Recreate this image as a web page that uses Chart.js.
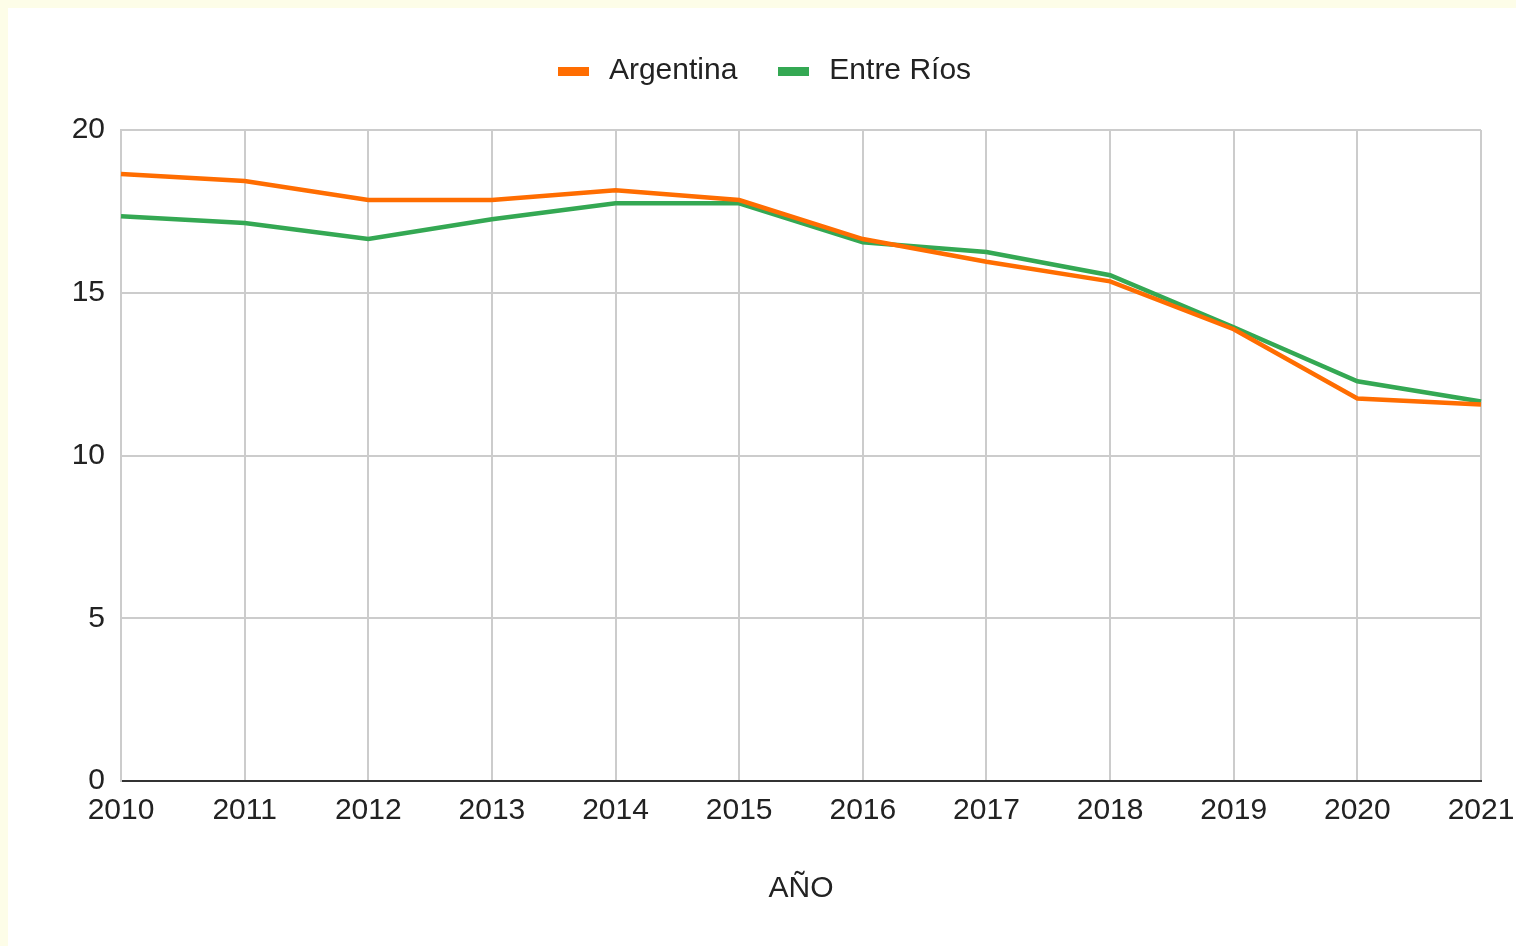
<!DOCTYPE html>
<html>
<head>
<meta charset="utf-8">
<script src="https://cdn.jsdelivr.net/npm/chart.js@4"></script>
<style>
  html, body { margin: 0; padding: 0; background: #fdfde8; }
  #wrap { position: absolute; left: 8px; top: 8px; width: 1508px; height: 938px; background: #fff; }
</style>
</head>
<body>
<div id="wrap"><canvas id="chart" width="1508" height="938"></canvas></div>
<script>
// datos
const years = ['2010', '2011', '2012', '2013', '2014', '2015', '2016', '2017', '2018', '2019', '2020', '2021'];
const argentina = [18.65, 18.43, 17.85, 17.85, 18.15, 17.85, 16.65, 15.95, 15.35, 13.88, 11.75, 11.57];
const entreRios = [17.35, 17.14, 16.65, 17.26, 17.75, 17.75, 16.55, 16.25, 15.54, 13.94, 12.28, 11.66];
const yTicks = [0, 5, 10, 15, 20];

const font = { family: "Arial, 'Liberation Sans', sans-serif", size: 30 };
const textColor = '#222';

// rectangulito de la leyenda
function legendBox(color) {
  const c = document.createElement('canvas');
  c.width = 31;
  c.height = 9;
  const g = c.getContext('2d');
  g.fillStyle = color;
  g.fillRect(0, 0, 31, 9);
  return c;
}

// altura fija de la leyenda
const legendHeight = {
  id: 'legendHeight',
  beforeInit(chart) {
    const fit = chart.legend.fit;
    chart.legend.fit = function () {
      fit.bind(chart.legend)();
      this.height = 110;
    };
  }
};

new Chart(document.getElementById('chart'), {
  type: 'line',
  data: {
    labels: years,
    datasets: [
      { label: 'Argentina', data: argentina, borderColor: '#ff6d01', backgroundColor: '#ff6d01', borderWidth: 4.5, pointRadius: 0, tension: 0, pointStyle: legendBox('#ff6d01') },
      { label: 'Entre Ríos', data: entreRios, borderColor: '#34a853', backgroundColor: '#34a853', borderWidth: 4.5, pointRadius: 0, tension: 0, pointStyle: legendBox('#34a853') }
    ]
  },
  options: {
    responsive: false,
    animation: false,
    layout: { padding: { top: 12, left: 0, right: 0, bottom: 39 } },
    plugins: {
      tooltip: { enabled: false },
      legend: {
        position: 'top',
        labels: {
          font: font,
          color: textColor,
          usePointStyle: true,
          pointStyleWidth: 41,
          boxHeight: 9,
          padding: 36
        }
      }
    },
    scales: {
      x: {
        offset: false,
        afterFit(scale) { scale.paddingRight = 35; },
        grid: { color: '#ccc', lineWidth: 2, drawTicks: false },
        border: { color: '#333', width: 2 },
        ticks: { font: font, color: textColor, padding: 12, maxRotation: 0, autoSkip: false },
        title: { display: true, text: 'AÑO', font: font, color: textColor, padding: { top: 30, bottom: 0 } }
      },
      y: {
        min: 0,
        max: 20,
        afterBuildTicks(scale) { scale.ticks = yTicks.map(v => ({ value: v })); },
        afterFit(scale) { scale.width = 113; },
        grid: { color: ctx => ctx.tick && ctx.tick.value === 0 ? '#333' : '#ccc', lineWidth: 2, drawTicks: false },
        border: { color: '#ccc', width: 2 },
        ticks: { font: font, color: textColor, padding: 16 }
      }
    }
  },
  plugins: [legendHeight]
});
</script>
</body>
</html>
